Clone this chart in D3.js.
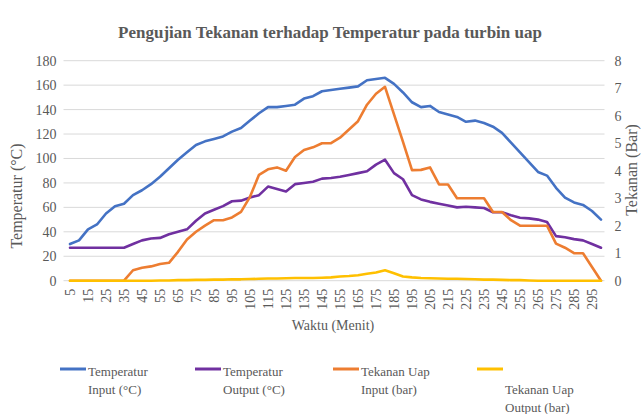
<html>
  <meta charset="utf-8" />
  <script src="https://d3js.org/d3.v7.min.js"></script>
  <style>
    body { margin: 0; background: #fff; }
    text { font-family: "Liberation Serif", "Times New Roman", serif; fill: #595959; }
  </style>
  <body>
    <svg width="642" height="414" id="chart"></svg>
    <script>
      // menit
      const minutes = [5, 10, 15, 20, 25, 30, 35, 40, 45, 50, 55, 60, 65, 70, 75, 80, 85, 90, 95, 100,
        105, 110, 115, 120, 125, 130, 135, 140, 145, 150, 155, 160, 165, 170, 175, 180, 185, 190, 195, 200,
        205, 210, 215, 220, 225, 230, 235, 240, 245, 250, 255, 260, 265, 270, 275, 280, 285, 290, 295, 300];

      const tempInput = [30, 33, 42, 46, 55, 61, 63, 70, 74, 79, 85, 92, 99, 105, 111, 114, 116, 118, 122, 125,
        131, 137, 142, 142, 143, 144, 149, 151, 155, 156, 157, 158, 159, 164, 165, 166, 161, 154, 146, 142,
        143, 138, 136, 134, 130, 131, 129, 126, 121, 113, 105, 97, 89, 86, 76, 68, 64, 62, 57, 50];

      const tempOutput = [27, 27, 27, 27, 27, 27, 27, 30, 33, 34.5, 35, 38, 40, 42, 49, 55, 58, 61, 65, 65.5,
        68, 70, 77, 75, 73, 79, 80, 81, 83.5, 84, 85, 86.5, 88, 89.5, 95, 99, 88, 83, 70, 66.5,
        64.5, 63, 61.5, 60, 60.5, 60, 59.5, 56, 56, 53.5, 51.5, 51, 50, 48, 36.5, 35.5, 34, 33, 30, 27];

      const tekananInput = [0, 0, 0, 0, 0, 0, 0, 0.38, 0.47, 0.52, 0.61, 0.65, 1.05, 1.5, 1.78, 2.0, 2.2, 2.2, 2.3, 2.5,
        3.05, 3.85, 4.05, 4.12, 4.0, 4.5, 4.75, 4.85, 5.0, 5.0, 5.2, 5.5, 5.8, 6.4, 6.8, 7.05, 6.05, 5.05, 4.02, 4.03,
        4.12, 3.5, 3.5, 3.0, 3.0, 3.0, 3.0, 2.5, 2.5, 2.2, 2.0, 2.0, 2.0, 2.0, 1.35, 1.2, 1.0, 1.0, 0.5, 0];

      const tekananOutput = [0, 0, 0, 0, 0, 0, 0, 0, 0, 0, 0.01, 0.01, 0.02, 0.02, 0.03, 0.03, 0.04, 0.04, 0.05, 0.05,
        0.06, 0.07, 0.08, 0.08, 0.09, 0.1, 0.1, 0.1, 0.11, 0.12, 0.15, 0.17, 0.2, 0.25, 0.3, 0.38, 0.27, 0.15, 0.12, 0.1,
        0.09, 0.08, 0.07, 0.07, 0.06, 0.05, 0.04, 0.04, 0.03, 0.02, 0.02, 0.01, 0, 0, 0, 0, 0, 0, 0, 0];

      const leftTicks = [0, 20, 40, 60, 80, 100, 120, 140, 160, 180];
      const rightTicks = [0, 1, 2, 3, 4, 5, 6, 7, 8];

      const series = [
        { values: tempInput, axis: "left", color: "#4472C4", label: ["Temperatur", "Input (°C)"] },
        { values: tempOutput, axis: "left", color: "#7030A0", label: ["Temperatur", "Output (°C)"] },
        { values: tekananInput, axis: "right", color: "#ED7D31", label: ["Tekanan Uap", "Input (bar)"] },
        { values: tekananOutput, axis: "right", color: "#FFC000", label: ["", "Tekanan Uap", "Output (bar)"] },
      ];

      const svg = d3.select("#chart");
      const plotLeft = 65.5, plotRight = 605.5, plotTop = 60.7, plotBottom = 280.7;

      const x = d3.scaleBand().domain(minutes).range([plotLeft, plotRight]).padding(0);
      const cx = (m) => x(m) + x.bandwidth() / 2;
      const yL = d3.scaleLinear().domain([0, 180]).range([plotBottom, plotTop]);
      const yR = d3.scaleLinear().domain([0, 8]).range([plotBottom, plotTop]);

      // grid
      svg.append("g")
        .selectAll("line")
        .data(leftTicks)
        .join("line")
        .attr("x1", plotLeft - 2)
        .attr("x2", plotRight - 1)
        .attr("y1", (d) => yL(d))
        .attr("y2", (d) => yL(d))
        .attr("stroke", "#d9d9d9")
        .attr("stroke-width", 1);

      const axL = svg.append("g")
        .attr("transform", `translate(${plotLeft - 9},0)`)
        .call(d3.axisLeft(yL).tickValues(leftTicks).tickSize(0).tickPadding(0));
      axL.select(".domain").remove();
      axL.selectAll("text").style("font-size", "14px").attr("fill", "#595959");

      const axR = svg.append("g")
        .attr("transform", `translate(${plotRight + 5},0)`)
        .call(d3.axisRight(yR).tickValues(rightTicks).tickSize(0).tickPadding(4));
      axR.select(".domain").remove();
      axR.selectAll("text").style("font-size", "14px").attr("fill", "#595959");

      const axB = svg.append("g")
        .attr("transform", `translate(0,${plotBottom + 8})`)
        .call(
          d3.axisBottom(x)
            .tickValues(minutes.filter((d, i) => i % 2 === 0))
            .tickSize(0)
            .tickPadding(0)
        );
      axB.select(".domain").remove();
      axB.selectAll("text")
        .style("font-size", "14px")
        .attr("fill", "#595959")
        .attr("transform", "rotate(-90)")
        .attr("text-anchor", "end")
        .attr("x", 0)
        .attr("y", 0)
        .attr("dy", "0.35em");

      // lines
      series.forEach((s) => {
        const y = s.axis === "left" ? yL : yR;
        const line = d3.line()
          .x((d, i) => cx(minutes[i]))
          .y((d) => y(d));
        svg.append("path")
          .datum(s.values)
          .attr("d", line)
          .attr("fill", "none")
          .attr("stroke", s.color)
          .attr("stroke-width", 2.6)
          .attr("stroke-linejoin", "round")
          .attr("stroke-linecap", "round");
      });

      // titles
      svg.append("text")
        .attr("x", 330)
        .attr("y", 38)
        .attr("text-anchor", "middle")
        .style("font-size", "17px")
        .style("font-weight", "bold")
        .text("Pengujian Tekanan terhadap Temperatur pada turbin uap");

      svg.append("text")
        .attr("transform", "translate(22,196) rotate(-90)")
        .attr("text-anchor", "middle")
        .style("font-size", "16px")
        .text("Temperatur (°C)");

      svg.append("text")
        .attr("transform", "translate(637,170) rotate(-90)")
        .attr("text-anchor", "middle")
        .style("font-size", "16px")
        .text("Tekanan (Bar)");

      svg.append("text")
        .attr("x", 333)
        .attr("y", 330)
        .attr("text-anchor", "middle")
        .style("font-size", "14px")
        .text("Waktu (Menit)");

      // legend
      const legendX = [60, 195, 333, 477];
      const legend = svg.append("g");
      series.forEach((s, i) => {
        const g = legend.append("g").attr("transform", `translate(${legendX[i]},369)`);
        g.append("line")
          .attr("x1", 0)
          .attr("x2", 26)
          .attr("stroke", s.color)
          .attr("stroke-width", 3);
        s.label.forEach((t, j) => {
          g.append("text")
            .attr("x", 28)
            .attr("y", 6.5 + j * 18)
            .style("font-size", "13px")
            .text(t);
        });
      });
    </script>
  </body>
</html>
